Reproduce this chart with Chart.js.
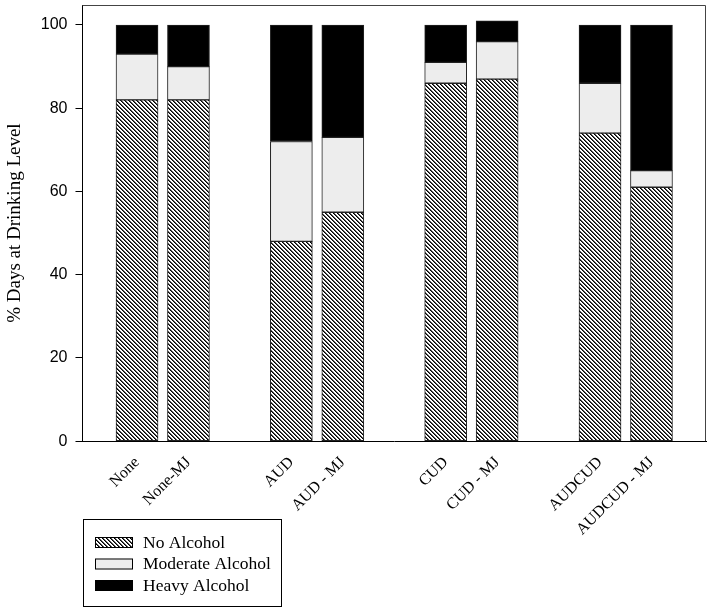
<!DOCTYPE html>
<html>
<head>
<meta charset="utf-8">
<script src="https://cdn.jsdelivr.net/npm/chart.js@4.4.1/dist/chart.umd.min.js"></script>
<style>
  html, body { margin: 0; padding: 0; background: #fff; }
</style>
</head>
<body>
<canvas id="drinkChart" width="711" height="613"></canvas>
<script>
// groups sit on a slot grid, empty slots (2, 5, 8) give the gaps
const groupLabels = ["None", "None-MJ", "AUD", "AUD - MJ", "CUD", "CUD - MJ", "AUDCUD", "AUDCUD - MJ"];
const slotPositions = [0, 1, 3, 4, 6, 7, 9, 10];
const noAlcohol = [82, 82, 48, 55, 86, 87, 74, 61];
const moderateAlcohol = [11, 8, 24, 18, 5, 9, 12, 4];
const heavyAlcohol = [7, 10, 28, 27, 9, 5, 14, 35];
const yTicks = [0, 20, 40, 60, 80, 100];

function hatchPattern() {
  let c = document.createElement("canvas");
  c.width = 4;
  c.height = 4;
  let g = c.getContext("2d");
  g.fillStyle = "#ffffff";
  g.fillRect(0, 0, 4, 4);
  for (let i = 0; i < 4; i++) {
    g.fillStyle = "#000000";
    g.fillRect(i, i, 1, 1);
    g.fillStyle = "#555555";
    g.fillRect((i + 1) % 4, i, 1, 1);
  }
  return g.createPattern(c, "repeat");
}

function points(values) {
  return values.map((v, i) => ({ x: slotPositions[i], y: v }));
}

const hatch = hatchPattern();

// top and right edges of the plot frame
const frame = {
  id: "frame",
  afterDraw(chart) {
    let a = chart.chartArea;
    let ctx = chart.ctx;
    ctx.save();
    ctx.strokeStyle = "#444444";
    ctx.lineWidth = 1;
    ctx.beginPath();
    ctx.moveTo(a.left, a.top + 0.5);
    ctx.lineTo(a.right - 0.5, a.top + 0.5);
    ctx.lineTo(a.right - 0.5, a.bottom);
    ctx.stroke();
    ctx.restore();
  }
};

// boxed legend under the labels
const boxLegend = {
  id: "boxLegend",
  afterDraw(chart) {
    let ctx = chart.ctx;
    ctx.save();
    ctx.strokeStyle = "#000000";
    ctx.lineWidth = 1;
    ctx.strokeRect(83.5, 519.5, 198, 87);
    ctx.font = '17.5px "Liberation Serif"';
    ctx.textBaseline = "middle";
    chart.data.datasets.forEach((ds, i) => {
      let y = 537 + i * 21.5;
      ctx.fillStyle = ds.backgroundColor;
      ctx.fillRect(95, y, 38, 11);
      ctx.strokeRect(95.5, y + 0.5, 37, 10);
      ctx.fillStyle = "#000000";
      ctx.fillText(ds.label, 143, y + 6);
    });
    ctx.restore();
  }
};

let context = document.getElementById("drinkChart").getContext("2d");
let myChart = new Chart(context, {
  type: "bar",
  data: {
    datasets: [
      { label: "No Alcohol", data: points(noAlcohol), backgroundColor: hatch },
      { label: "Moderate Alcohol", data: points(moderateAlcohol), backgroundColor: "#ededed" },
      { label: "Heavy Alcohol", data: points(heavyAlcohol), backgroundColor: "#000000" }
    ]
  },
  options: {
    responsive: false,
    animation: false,
    layout: { padding: { top: 5, right: 5, left: 2, bottom: 70 } },
    datasets: {
      bar: {
        barThickness: 42,
        borderWidth: 1,
        borderColor: "#222222",
        borderSkipped: false
      }
    },
    plugins: {
      legend: { display: false },
      tooltip: { enabled: false }
    },
    scales: {
      x: {
        type: "linear",
        stacked: true,
        min: -1.06,
        max: 11.06,
        offset: false,
        grid: { display: false },
        border: { display: true, color: "#000000", width: 1 },
        afterBuildTicks: scale => {
          scale.ticks = slotPositions.map(v => ({ value: v }));
        },
        ticks: {
          autoSkip: false,
          minRotation: 45,
          maxRotation: 45,
          padding: 4,
          color: "#000000",
          font: { family: "Liberation Serif", size: 16 },
          callback: value => groupLabels[slotPositions.indexOf(value)]
        }
      },
      y: {
        stacked: true,
        min: 0,
        max: 104.8,
        afterBuildTicks: scale => {
          scale.ticks = yTicks.map(v => ({ value: v }));
        },
        afterFit: scale => {
          scale.paddingTop = 0;
          scale.paddingBottom = 0;
        },
        grid: {
          display: true,
          drawOnChartArea: false,
          drawTicks: true,
          tickLength: 7,
          color: "#000000"
        },
        border: { display: true, color: "#000000", width: 1 },
        ticks: {
          padding: 8,
          color: "#000000",
          font: { family: "Liberation Sans", size: 16 }
        },
        title: {
          display: true,
          text: "% Days at Drinking Level",
          color: "#000000",
          font: { family: "Liberation Serif", size: 19 },
          padding: { top: 2, bottom: 6 }
        }
      }
    }
  },
  plugins: [frame, boxLegend]
});
</script>
</body>
</html>
